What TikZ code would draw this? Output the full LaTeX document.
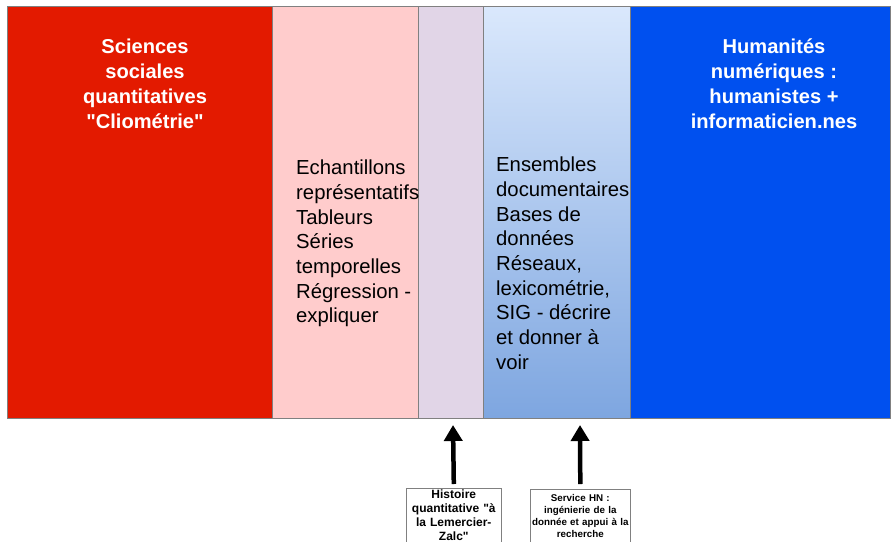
\documentclass[tikz,border=0pt]{standalone}
\usepackage{fontspec}
\setmainfont{Liberation Sans}[Ligatures=TeXOff]
\usetikzlibrary{arrows.meta}
\definecolor{cred}{HTML}{E31A00}
\definecolor{cpink}{HTML}{FFCCCC}
\definecolor{clav}{HTML}{E1D5E7}
\definecolor{cbtop}{HTML}{DAE8FC}
\definecolor{cbbot}{HTML}{7EA6E0}
\definecolor{cblue}{HTML}{0050EF}
\definecolor{cedge}{HTML}{808080}
\tikzset{
  col/.style={draw=cedge, line width=0.6pt},
  title/.style={text=white, font=\bfseries\fontsize{20.1}{25}\selectfont, align=center, anchor=north},
  body/.style={font=\fontsize{20.3}{24.65}\selectfont, align=left, anchor=north west, inner sep=0pt},
  smallbox/.style={draw=cedge, fill=white, line width=0.6pt, anchor=north west, align=center, inner sep=1pt},
  arr/.style={line width=4.5pt, -{Triangle[width=18pt,length=16pt]}},
}
\begin{document}
\begin{tikzpicture}[x=1pt,y=-1pt]
\useasboundingbox (0,0) rectangle (891,541);
\fill[white] (0,0) rectangle (891,541);
\draw[col, fill=cred] (7,6) rectangle (272,418);
\draw[col, fill=cpink] (272,6) rectangle (418,418);
\draw[col, fill=clav] (418,6) rectangle (483,418);
\draw[col, top color=cbtop, bottom color=cbbot] (483,6) rectangle (630,418);
\draw[col, fill=cblue] (630,6) rectangle (890,418);

\node[title] (t1) at (145,35) {Sciences\\sociales\\quantitatives\\"Cliométrie"};
\node[title] (t2) at (774,35) {Humanités\\numériques :\\humanistes +\\informaticien.nes};

\node[body] (b1) at (296,160) {Echantillons\\représentatifs\\Tableurs\\Séries\\temporelles\\Régression -\\expliquer};
\node[body] (b2) at (496,157) {Ensembles\\documentaires\\Bases de\\données\\Réseaux,\\lexicométrie,\\SIG - décrire\\et donner à\\voir};

\node[smallbox, minimum width=95pt, minimum height=60pt, font=\bfseries\fontsize{12}{14}\selectfont, text width=93pt] (h1) at (406,488) {\\[-11pt]Histoire\\quantitative "à\\la Lemercier-\\Zalc"};
\node[smallbox, minimum width=100pt, minimum height=60pt, font=\bfseries\fontsize{9.8}{12}\selectfont, text width=98pt] (h2) at (530,489) {\\[-11pt]Service HN :\\ingénierie de la\\donnée et appui à la\\recherche};

\coordinate (a1) at (453,425);
\coordinate (a2) at (580,425);
\draw[arr] ([yshift=4pt]h1.north) -- (a1);
\draw[arr] ([yshift=5pt]h2.north) -- (a2);
\end{tikzpicture}
\end{document}
